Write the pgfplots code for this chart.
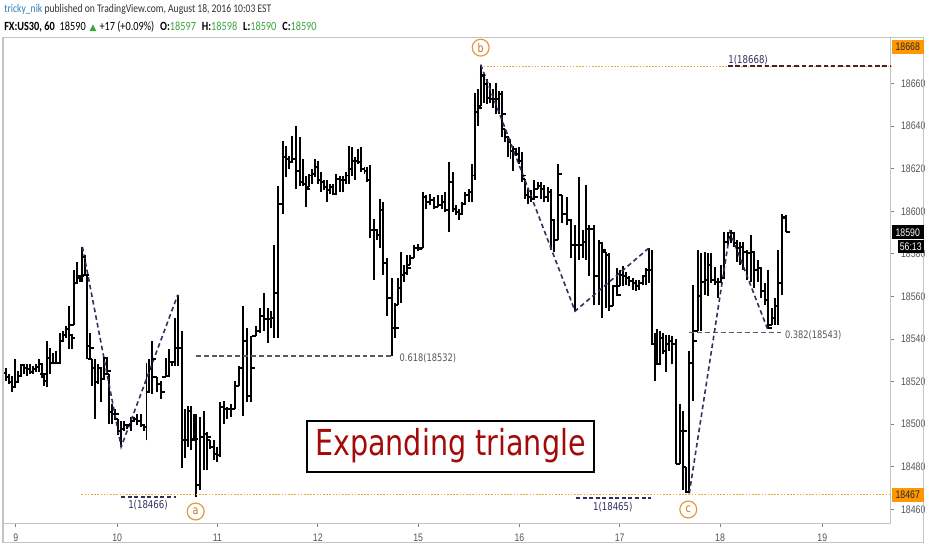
\documentclass[border=0pt]{standalone}
\usepackage{fontspec}
\usepackage{pgfplots}
\usepackage{pgfplotstable}
\pgfplotsset{compat=1.18}
\setmainfont[FakeStretch=0.82]{Carlito}
\newfontfamily\scalefont[FakeStretch=0.8]{Liberation Sans}
\newfontfamily\notefont[FakeStretch=0.8]{DejaVu Sans}
\newfontfamily\symfont{DejaVu Sans}

\definecolor{tvorange}{HTML}{FF9800}
\definecolor{tvdot}{HTML}{F2A33A}
\definecolor{wave}{HTML}{30305E}
\definecolor{fib}{HTML}{5A5A5A}
\definecolor{topdash}{HTML}{4A2424}
\definecolor{tvgreen}{HTML}{3DA33D}
\definecolor{tvblue}{HTML}{2E7EB8}
\definecolor{boxred}{HTML}{A30A0A}
\definecolor{circ}{HTML}{E09A3C}
\definecolor{circtext}{HTML}{C8771A}
\definecolor{frame}{HTML}{C4C4C4}
\definecolor{labgray}{HTML}{555555}

% open tick (left) and close tick (right) of an OHLC bar
\pgfdeclareplotmark{otick}{\pgfpathmoveto{\pgfqpoint{-2pt}{0pt}}\pgfpathlineto{\pgfqpoint{0pt}{0pt}}\pgfusepathqstroke}
\pgfdeclareplotmark{ctick}{\pgfpathmoveto{\pgfqpoint{0pt}{0pt}}\pgfpathlineto{\pgfqpoint{2pt}{0pt}}\pgfusepathqstroke}

% hourly bars: x position on the time scale, open, high, low, close
\pgfplotstableread{
x o h l c
6 18524.0 18526.6 18520.4 18522.2
9 18522.2 18523.5 18518.8 18520.0
12 18520.0 18522.7 18514.9 18517.3
15 18517.3 18530.5 18517.3 18519.6
18 18519.6 18525.0 18519.6 18522.7
21 18522.7 18528.1 18522.7 18527.8
24 18527.8 18528.5 18523.5 18526.6
27 18526.6 18528.1 18522.7 18525.8
30 18525.8 18528.1 18523.5 18524.7
33 18524.7 18527.4 18523.5 18525.8
36 18525.8 18528.1 18524.7 18526.9
39 18526.9 18530.5 18524.3 18528.1
42 18528.1 18528.1 18521.9 18523.5
44.5 18523.5 18523.5 18518.0 18520.4
47 18520.4 18539.0 18517.3 18531.3
50 18531.3 18535.9 18523.5 18528.9
53 18528.9 18533.6 18528.1 18528.9
56 18528.9 18534.4 18528.1 18528.9
60 18528.9 18542.9 18528.1 18539.0
63 18539.0 18543.7 18539.0 18542.1
66 18542.1 18546.0 18540.6 18544.5
69 18544.5 18555.4 18535.1 18542.1
72 18542.1 18542.1 18535.1 18540.6
74.5 18540.6 18572.5 18546.8 18566.2
78 18566.2 18576.3 18566.2 18568.6
80.5 18568.6 18570.1 18567.0 18569.4
83 18569.4 18583.3 18567.0 18578.7
85.5 18578.7 18579.5 18569.4 18570.1
88 18570.1 18570.1 18530.5 18536.7
90.5 18536.7 18542.9 18530.5 18536.0
93 18536.0 18530.5 18518.0 18526.6
96 18526.6 18530.5 18502.5 18519.6
99 18519.6 18528.1 18518.8 18526.6
102 18526.6 18526.6 18510.3 18521.1
105 18521.1 18531.3 18521.1 18531.3
107.5 18531.3 18531.3 18523.5 18525.0
110 18525.0 18523.5 18500.2 18505.6
113 18505.6 18509.5 18500.2 18504.8
115.5 18504.8 18507.2 18502.5 18504.8
118.5 18504.8 18502.5 18494.7 18497.0
122 18497.0 18501.7 18489.3 18497.8
125 18497.8 18501.7 18497.0 18499.4
128 18499.4 18500.2 18497.8 18499.4
132 18499.4 18503.3 18497.0 18501.7
135 18501.7 18503.3 18500.9 18502.5
138 18502.5 18504.8 18499.4 18501.7
142 18501.7 18504.8 18498.6 18499.4
144.5 18499.4 18500.2 18497.0 18498.6
147.5 18498.6 18528.9 18492.4 18515.0
150.5 18515.0 18530.5 18515.0 18525.8
153.5 18525.8 18539.0 18514.2 18530.5
158 18530.5 18522.0 18515.0 18518.8
162 18518.8 18520.4 18511.8 18515.0
167 18515.0 18531.3 18522.0 18522.7
170 18522.7 18535.2 18522.0 18529.0
173 18529.0 18529.7 18527.4 18529.0
176 18529.0 18550.0 18527.4 18536.0
179 18536.0 18560.8 18527.4 18536.0
183 18536.0 18543.7 18479.2 18492.4
186.5 18492.4 18507.2 18483.9 18492.4
189.5 18492.4 18508.7 18489.3 18506.4
192.5 18506.4 18508.7 18487.7 18492.4
195 18492.4 18504.8 18492.4 18493.2
197.5 18493.2 18504.8 18466.0 18471.4
201 18471.4 18503.3 18469.1 18494.0
205 18494.0 18506.4 18478.4 18495.5
208 18495.5 18496.3 18478.4 18494.0
211 18494.0 18492.4 18488.5 18489.3
215 18489.3 18492.4 18483.1 18486.2
218 18486.2 18489.3 18482.3 18485.4
222 18485.4 18510.3 18484.6 18508.0
226 18508.0 18511.0 18500.2 18507.2
229 18507.2 18508.0 18502.5 18507.2
233 18507.2 18509.5 18503.3 18507.2
237 18507.2 18520.4 18507.2 18518.0
241 18518.0 18527.4 18518.0 18526.6
245 18526.6 18555.4 18504.0 18539.0
248.5 18539.0 18545.3 18510.3 18513.4
253 18513.4 18541.4 18510.3 18526.6
258 18526.6 18546.0 18541.4 18543.7
262 18543.7 18554.6 18543.0 18550.7
266 18550.7 18561.6 18543.7 18549.2
270 18549.2 18554.6 18538.3 18549.2
273 18549.2 18553.0 18545.0 18549.8
276 18549.8 18584.1 18540.6 18561.6
280 18561.6 18612.1 18540.6 18603.6
285 18603.6 18633.1 18598.9 18625.5
288 18625.5 18630.8 18616.0 18624.6
291 18624.6 18626.0 18620.0 18623.0
294 18623.0 18635.5 18623.0 18624.6
298 18624.6 18640.1 18610.6 18618.7
302 18618.7 18634.7 18612.1 18613.7
305 18613.7 18624.6 18612.1 18612.9
308 18612.9 18616.8 18602.0 18610.6
311 18610.6 18617.6 18611.4 18616.8
314 18616.8 18619.9 18612.9 18617.6
317 18617.6 18624.6 18616.0 18620.7
320 18620.7 18623.8 18612.9 18614.5
323 18614.5 18618.4 18609.0 18613.7
326 18613.7 18614.5 18609.8 18611.4
329 18611.4 18614.5 18604.4 18609.8
332 18609.8 18612.9 18608.2 18611.4
335 18611.4 18612.9 18607.5 18608.2
338 18608.2 18617.6 18608.2 18615.2
342 18615.2 18616.8 18609.0 18614.5
345 18614.5 18616.8 18609.0 18614.5
348 18614.5 18618.4 18612.9 18616.8
351 18616.8 18630.8 18612.9 18619.9
354 18619.9 18630.0 18616.8 18623.8
357 18623.8 18625.4 18614.5 18623.8
360 18623.8 18629.2 18622.2 18623.0
363 18623.0 18630.0 18618.4 18619.9
367 18619.9 18620.7 18617.6 18619.1
370 18619.1 18620.7 18613.7 18614.5
373 18614.5 18621.5 18587.3 18591.1
377 18591.1 18596.6 18567.8 18591.1
380 18591.1 18591.1 18586.5 18588.8
383 18588.8 18605.9 18582.6 18600.5
386 18600.5 18604.4 18570.2 18575.6
390 18575.6 18578.0 18550.7 18559.3
395 18559.3 18568.6 18532.1 18545.3
398 18545.3 18556.9 18540.6 18545.3
401 18545.3 18568.6 18556.1 18563.9
404 18563.9 18581.0 18556.9 18570.2
407 18570.2 18574.8 18567.0 18570.9
410 18570.9 18579.5 18570.2 18573.3
413 18573.3 18579.5 18574.8 18577.9
417 18577.9 18584.1 18577.9 18582.6
421 18582.6 18584.5 18581.5 18582.5
426 18582.5 18609.0 18582.6 18606.7
429 18606.7 18607.5 18601.3 18604.4
433 18604.4 18608.3 18602.8 18605.1
437 18605.1 18606.7 18601.3 18602.0
441 18602.0 18607.5 18602.0 18602.8
445 18602.8 18607.5 18601.3 18604.4
448 18604.4 18609.0 18599.7 18600.5
452 18600.5 18623.0 18590.4 18613.7
456 18613.7 18618.4 18599.7 18601.3
459 18601.3 18602.8 18598.2 18599.7
462 18599.7 18601.3 18595.8 18598.9
465 18598.9 18604.4 18598.2 18603.6
468 18603.6 18609.0 18603.6 18607.5
472 18607.5 18610.6 18604.4 18609.0
475 18609.0 18622.2 18604.4 18616.8
478 18616.8 18655.7 18614.5 18646.4
481 18646.4 18657.2 18640.1 18648.7
484 18648.7 18668.9 18649.5 18664.2
487 18664.2 18663.5 18651.0 18660.0
490 18660.0 18661.9 18650.2 18653.4
493 18653.4 18660.3 18651.0 18652.6
496 18652.6 18657.2 18648.7 18652.6
499 18652.6 18660.3 18645.6 18652.6
502 18652.6 18656.5 18645.6 18654.9
505 18654.9 18656.5 18634.7 18645.6
508 18645.6 18638.6 18632.4 18634.7
511 18634.7 18635.5 18625.4 18632.4
514 18632.4 18633.9 18624.6 18628.5
517 18628.5 18630.8 18619.1 18629.2
520 18629.2 18629.2 18626.1 18626.9
523 18626.9 18630.0 18622.3 18623.8
526 18623.8 18627.7 18613.7 18616.8
529 18616.8 18615.2 18605.9 18607.5
532 18607.5 18610.6 18603.6 18606.7
535 18606.7 18609.8 18604.4 18605.9
538 18605.9 18614.5 18605.9 18606.7
542 18606.7 18613.7 18610.6 18612.1
545 18612.1 18613.7 18605.9 18610.6
548 18610.6 18612.2 18604.4 18606.7
552 18606.7 18611.4 18604.4 18609.0
555 18609.0 18610.6 18581.8 18595.8
558 18595.8 18595.8 18581.0 18586.5
562 18586.5 18622.3 18586.5 18617.6
566 18617.6 18607.5 18594.3 18598.9
571 18598.9 18606.7 18593.5 18595.8
575 18595.8 18596.6 18578.0 18584.2
579 18584.2 18593.5 18553.1 18584.2
583 18584.2 18616.0 18577.2 18584.2
587 18584.2 18591.2 18578.0 18585.7
590 18585.7 18612.2 18577.2 18591.9
593.5 18591.9 18593.5 18569.4 18591.9
598 18591.9 18593.5 18556.2 18569.4
603 18569.4 18586.5 18556.2 18584.9
606 18584.9 18585.7 18550.0 18581.8
610 18581.8 18581.0 18554.6 18579.5
613 18579.5 18580.3 18553.1 18555.4
617 18555.4 18565.5 18555.4 18564.7
621 18564.7 18573.3 18560.1 18560.8
624 18560.8 18572.5 18564.7 18570.2
627 18570.2 18574.1 18564.7 18569.4
630 18569.4 18571.7 18565.5 18568.6
633 18568.6 18569.4 18564.7 18567.1
637 18567.1 18568.6 18563.2 18566.3
640 18566.3 18567.8 18562.4 18564.7
643 18564.7 18567.8 18563.2 18566.3
647 18566.3 18570.2 18565.5 18569.4
650 18569.4 18573.3 18565.5 18572.5
653 18572.5 18582.6 18566.2 18572.5
656 18572.5 18581.8 18537.5 18537.5
659 18537.5 18543.0 18520.4 18534.0
662 18534.0 18544.5 18528.1 18528.1
665 18528.1 18543.7 18528.1 18540.6
668 18540.6 18542.9 18532.8 18534.4
671 18534.4 18542.1 18524.3 18537.5
674 18537.5 18542.1 18534.4 18539.0
677 18539.0 18541.4 18528.1 18537.5
681 18537.5 18539.8 18481.5 18481.5
685 18481.5 18509.5 18481.5 18497.0
688 18497.0 18506.4 18469.1 18497.0
691 18497.0 18480.0 18468.3 18468.3
694 18468.3 18534.4 18467.5 18528.9
698 18528.9 18565.5 18511.0 18539.0
703 18539.0 18581.8 18543.7 18560.0
706 18560.0 18580.2 18543.7 18567.0
710 18567.0 18581.0 18560.8 18567.8
713 18567.8 18580.2 18560.0 18574.8
716 18574.8 18580.2 18566.2 18567.8
720 18567.8 18574.0 18565.5 18567.0
723 18567.0 18568.6 18559.3 18567.0
726 18567.0 18574.8 18567.0 18568.6
729 18568.6 18590.3 18568.6 18585.7
733 18585.7 18590.3 18584.1 18588.0
736 18588.0 18591.1 18584.9 18589.6
739 18589.6 18589.6 18583.4 18584.9
742 18584.9 18586.5 18576.4 18582.6
745 18582.6 18585.7 18574.8 18583.4
748 18583.4 18585.7 18572.5 18581.0
752 18581.0 18581.8 18567.8 18580.2
756 18580.2 18588.8 18567.0 18581.0
759 18581.0 18581.0 18563.9 18572.5
763 18572.5 18577.1 18567.0 18573.3
766 18573.3 18573.3 18559.3 18562.4
770 18562.4 18566.2 18556.1 18558.5
773 18558.5 18572.5 18544.5 18545.3
777 18545.3 18554.6 18546.8 18549.9
780 18549.9 18559.3 18546.8 18555.4
783 18555.4 18581.8 18546.8 18566.2
787 18566.2 18598.9 18560.8 18597.3
791 18597.0 18598.1 18590.3 18590.3
}\bars

\begin{document}
\begin{tikzpicture}
\begin{scope}[x=0.5pt,y=-0.5pt]
  \fill[white] (0,0) rectangle (932,550);
  \useasboundingbox (0,0) rectangle (932,550);
\end{scope}

\begin{axis}[
    at={(1.5pt,-263.5pt)}, anchor=south west,
    scale only axis, width=447pt, height=244.5pt,
    xmin=3, xmax=897, ymin=18453.4, ymax=18681.5,
    clip=false,
    axis line style={draw=frame, line width=0.6pt},
    tick align=outside, major tick length=1.6pt,
    tick style={draw=gray, line width=0.5pt},
    xtick pos=lower, ytick pos=right, yticklabel pos=right,
    scaled y ticks=false, scaled x ticks=false,
    xtick={16,118,219,320,421,523,624,725,828},
    xticklabels={9,10,11,12,15,16,17,18,19},
    ytick={18460,18480,18500,18520,18540,18560,18580,18600,18620,18640,18660},
    yticklabels={18460,18480,18500,18520,18540,18560,18580,18600,18620,18640,18660},
    ticklabel style={font=\scalefont\fontsize{5.5}{6}\selectfont, text=labgray},
]

% high-low stems
\addplot[black, line width=1pt, mark=none, forget plot,
    quiver={u=0, v=\thisrow{h}-\thisrow{l}}]
  table[x=x, y=l] {\bars};
% open ticks
\addplot[only marks, mark=otick, mark options={line width=1pt, black}, forget plot]
  table[x=x, y expr={max(min(\thisrow{o},\thisrow{h}),\thisrow{l})}] {\bars};
% close ticks
\addplot[only marks, mark=ctick, mark options={line width=1pt, black}, forget plot]
  table[x=x, y=c] {\bars};

% support / resistance levels
\draw[tvdot, line width=0.5pt, dash pattern=on 0.8pt off 0.8pt] (82,18467) -- (897,18467);
\draw[tvdot, line width=0.5pt, dash pattern=on 0.8pt off 0.8pt] (484,18668) -- (897,18668);
\draw[topdash, line width=1pt, dash pattern=on 2.3pt off 1.4pt] (733,18668) -- (897,18668);
\node[anchor=south west, inner sep=0, yshift=0.6pt, text=wave, font=\notefont\fontsize{5.4}{6}\selectfont] at (733,18668) {1(18668)};

\draw[wave, line width=1pt, dash pattern=on 2pt off 1.3pt] (122,18465.8) -- (177,18465.8);
\node[anchor=north, inner sep=0, yshift=-1.6pt, text=wave, font=\notefont\fontsize{5.4}{6}\selectfont] at (149,18466) {1(18466)};
\draw[wave, line width=1pt, dash pattern=on 2pt off 1.3pt] (580,18465.3) -- (655,18465.3);
\node[anchor=north, inner sep=0, yshift=-1.6pt, text=wave, font=\notefont\fontsize{5.4}{6}\selectfont] at (617,18465) {1(18465)};

% retracement levels
\draw[fib, line width=0.8pt, dash pattern=on 2.5pt off 1.5pt] (197,18532) -- (396,18532);
\node[anchor=west, inner sep=0, yshift=-1.3pt, text=labgray, font=\notefont\fontsize{5.2}{6}\selectfont] at (402,18532) {0.618(18532)};
\draw[fib, line width=0.8pt, dash pattern=on 2.5pt off 1.5pt] (694,18543) -- (786,18543);
\node[anchor=west, inner sep=0, yshift=-1.3pt, text=labgray, font=\notefont\fontsize{5.2}{6}\selectfont] at (790,18543) {0.382(18543)};

% wave legs
\draw[wave, line width=0.8pt, dash pattern=on 2.3pt off 1.6pt] (83,18583.3) -- (122,18489.3) -- (179,18560.8);
\draw[wave, line width=0.8pt, dash pattern=on 2.3pt off 1.6pt] (484,18668.9) -- (579,18553.1) -- (653,18582.6);
\draw[wave, line width=0.8pt, dash pattern=on 2.3pt off 1.6pt] (694,18467.5) -- (735,18590.3) -- (773,18544.5);
\end{axis}

\begin{scope}[x=0.5pt,y=-0.5pt]
  % frame
  \draw[frame, line width=0.6pt] (3,38) -- (930,38) -- (930,546) -- (3,546) -- cycle;
  % header
  \node[anchor=west, inner sep=0, font=\fontsize{5.9}{7}\selectfont, text=black!80] at (4,10)
    {\textcolor{tvblue}{tricky\_nik} published on TradingView.com, August 18, 2016 10:03 EST};
  \node[anchor=west, inner sep=0, font=\fontsize{6.3}{7}\selectfont, text=black] at (4,27)
    {\textbf{FX:US30, 60}\hspace{2.5pt}18590\hspace{2pt}\textcolor{tvgreen}{\symfont\fontsize{4.5}{5}\selectfont ▲}\hspace{1.5pt}+17 (+0.09\%)\hspace{3pt}\textbf{O:}\textcolor{tvgreen}{18597}\hspace{3pt}\textbf{H:}\textcolor{tvgreen}{18598}\hspace{3pt}\textbf{L:}\textcolor{tvgreen}{18590}\hspace{3pt}\textbf{C:}\textcolor{tvgreen}{18590}};
  % price scale markers
  \fill[tvorange] (898,40) rectangle (930,54);
  \node[font=\scalefont\fontsize{5.5}{6}\selectfont, text=black!85] at (914,47) {18668};
  \fill[tvorange] (898,491) rectangle (930,505);
  \node[font=\scalefont\fontsize{5.5}{6}\selectfont, text=black!85] at (914,498) {18467};
  \fill[black] (898,227) rectangle (930,241);
  \node[font=\scalefont\fontsize{5.5}{6}\selectfont, text=white] at (914,234) {18590};
  \fill[black] (904,242) rectangle (930,255);
  \node[font=\scalefont\fontsize{5.5}{6}\selectfont, text=white] at (917,248.5) {56:13};
  % wave labels
  \foreach \px/\py/\lab in {197/515/a, 484/48/b, 693/513/c}{
    \draw[circ, fill=white, line width=0.6pt] (\px,\py) circle[radius=8.5];
    \node[text=circtext, font=\notefont\fontsize{6}{6}\selectfont] at (\px,\py) {\lab};
  }
  % text box
  \draw[black, line width=1pt, fill=white] (309,424) rectangle (598,475);
  \node[text=boxred, font=\notefont\fontsize{18}{20}\selectfont] at (453.5,449) {Expanding triangle};
\end{scope}
\end{tikzpicture}
\end{document}
